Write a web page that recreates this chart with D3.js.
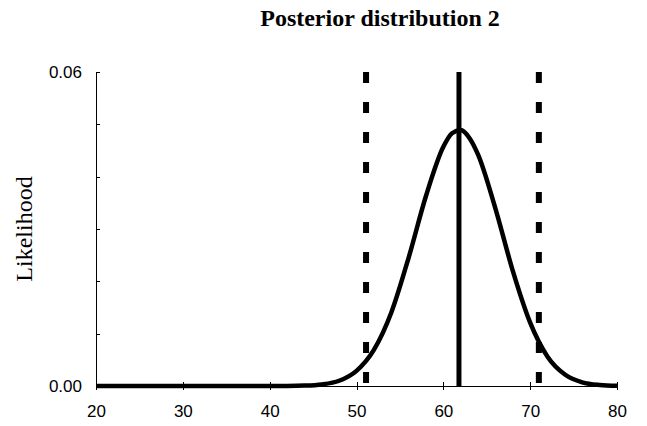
<!DOCTYPE html>
<html>
<head>
<meta charset="utf-8">
<script src="https://cdn.jsdelivr.net/npm/d3@7"></script>
<style>
  body { margin: 0; background: #fff; }
  .tick text { font-family: Arial, "Liberation Sans", sans-serif; font-size: 17px; fill: #000; }
  .axis path, .axis line { stroke: #000; stroke-width: 1; shape-rendering: crispEdges; }
</style>
</head>
<body>
<div id="chart"></div>
<script>
// curve values
var xs = [20, 25, 30, 35, 40, 42, 44, 46, 48, 50, 52, 54, 56, 58, 60, 61, 62, 63, 64, 66, 68, 70, 72, 74, 76, 78, 80];
var likelihood = [0, 0, 0, 0, 0.00001, 0.00002, 0.00008, 0.0003, 0.001, 0.0029, 0.0069, 0.0140, 0.0245, 0.0363, 0.0457, 0.0483, 0.0489, 0.0474, 0.0442, 0.0339, 0.0220, 0.0121, 0.0056, 0.0022, 0.0007, 0.0002, 0.00005];
var meanLine = 61.8;
var intervalLines = [51.1, 71.0];
var xTicks = [20, 30, 40, 50, 60, 70, 80];
var yTicks = [0, 0.01, 0.02, 0.03, 0.04, 0.05, 0.06];
var yLabels = [0, 0.06];

var margins = { margin_left: 96, margin_right: 30, margin_top: 72, margin_bottom: 40, width: 521, height: 314 };

var svg = d3.select("#chart")
            .append("svg")
            .attr("width", 647)
            .attr("height", 426)
            .append("g")
                .attr("transform", "translate(" + margins.margin_left + "," + margins.margin_top + ")");

var x = d3.scaleLinear().domain([20, 80]).range([0, margins.width]);
var y = d3.scaleLinear().domain([0, 0.06]).range([margins.height, 0]);

// x axis, ticks crossing the line
var x_axis = d3.axisBottom(x).tickValues(xTicks).tickSizeInner(4).tickSizeOuter(0).tickPadding(15);
var gx = svg.append("g")
    .attr("class", "axis")
    .attr("transform", "translate(0," + margins.height + ")")
    .call(x_axis);
gx.selectAll(".tick line").attr("y1", -4);

// y axis
var y_axis = d3.axisLeft(y).tickValues(yTicks).tickSizeInner(5).tickSizeOuter(0).tickPadding(9)
    .tickFormat(function(d) { return yLabels.indexOf(d) >= 0 ? d3.format(".2f")(d) : ""; });
var gy = svg.append("g")
    .attr("class", "axis")
    .call(y_axis);
gy.selectAll(".tick line").attr("x2", 4);

// posterior curve
var line = d3.line()
    .x(function(d, i) { return x(xs[i]); })
    .y(function(d) { return y(d); })
    .curve(d3.curveMonotoneX);

svg.append("path")
    .datum(likelihood)
    .attr("fill", "none")
    .attr("stroke", "#000")
    .attr("stroke-width", 4.5)
    .attr("d", line);

// interval lines
svg.selectAll(".interval")
    .data(intervalLines)
    .enter().append("line")
    .attr("class", "interval")
    .attr("x1", function(d) { return x(d); })
    .attr("x2", function(d) { return x(d); })
    .attr("y1", y(0.06))
    .attr("y2", y(0))
    .attr("stroke", "#000")
    .attr("stroke-width", 6)
    .attr("stroke-dasharray", "11,19");

// mean line
svg.append("line")
    .attr("x1", x(meanLine))
    .attr("x2", x(meanLine))
    .attr("y1", y(0.06))
    .attr("y2", y(0))
    .attr("stroke", "#000")
    .attr("stroke-width", 5);

// labels
svg.append("text")
    .attr("x", 284)
    .attr("y", -46)
    .attr("text-anchor", "middle")
    .style("font-family", "'Times New Roman', 'Liberation Serif', serif")
    .style("font-weight", "bold")
    .style("font-size", "24px")
    .text("Posterior distribution 2");

svg.append("text")
    .attr("transform", "rotate(-90)")
    .attr("x", -157)
    .attr("y", -64)
    .attr("text-anchor", "middle")
    .style("font-family", "'Times New Roman', 'Liberation Serif', serif")
    .style("font-size", "24px")
    .text("Likelihood");
</script>
</body>
</html>
